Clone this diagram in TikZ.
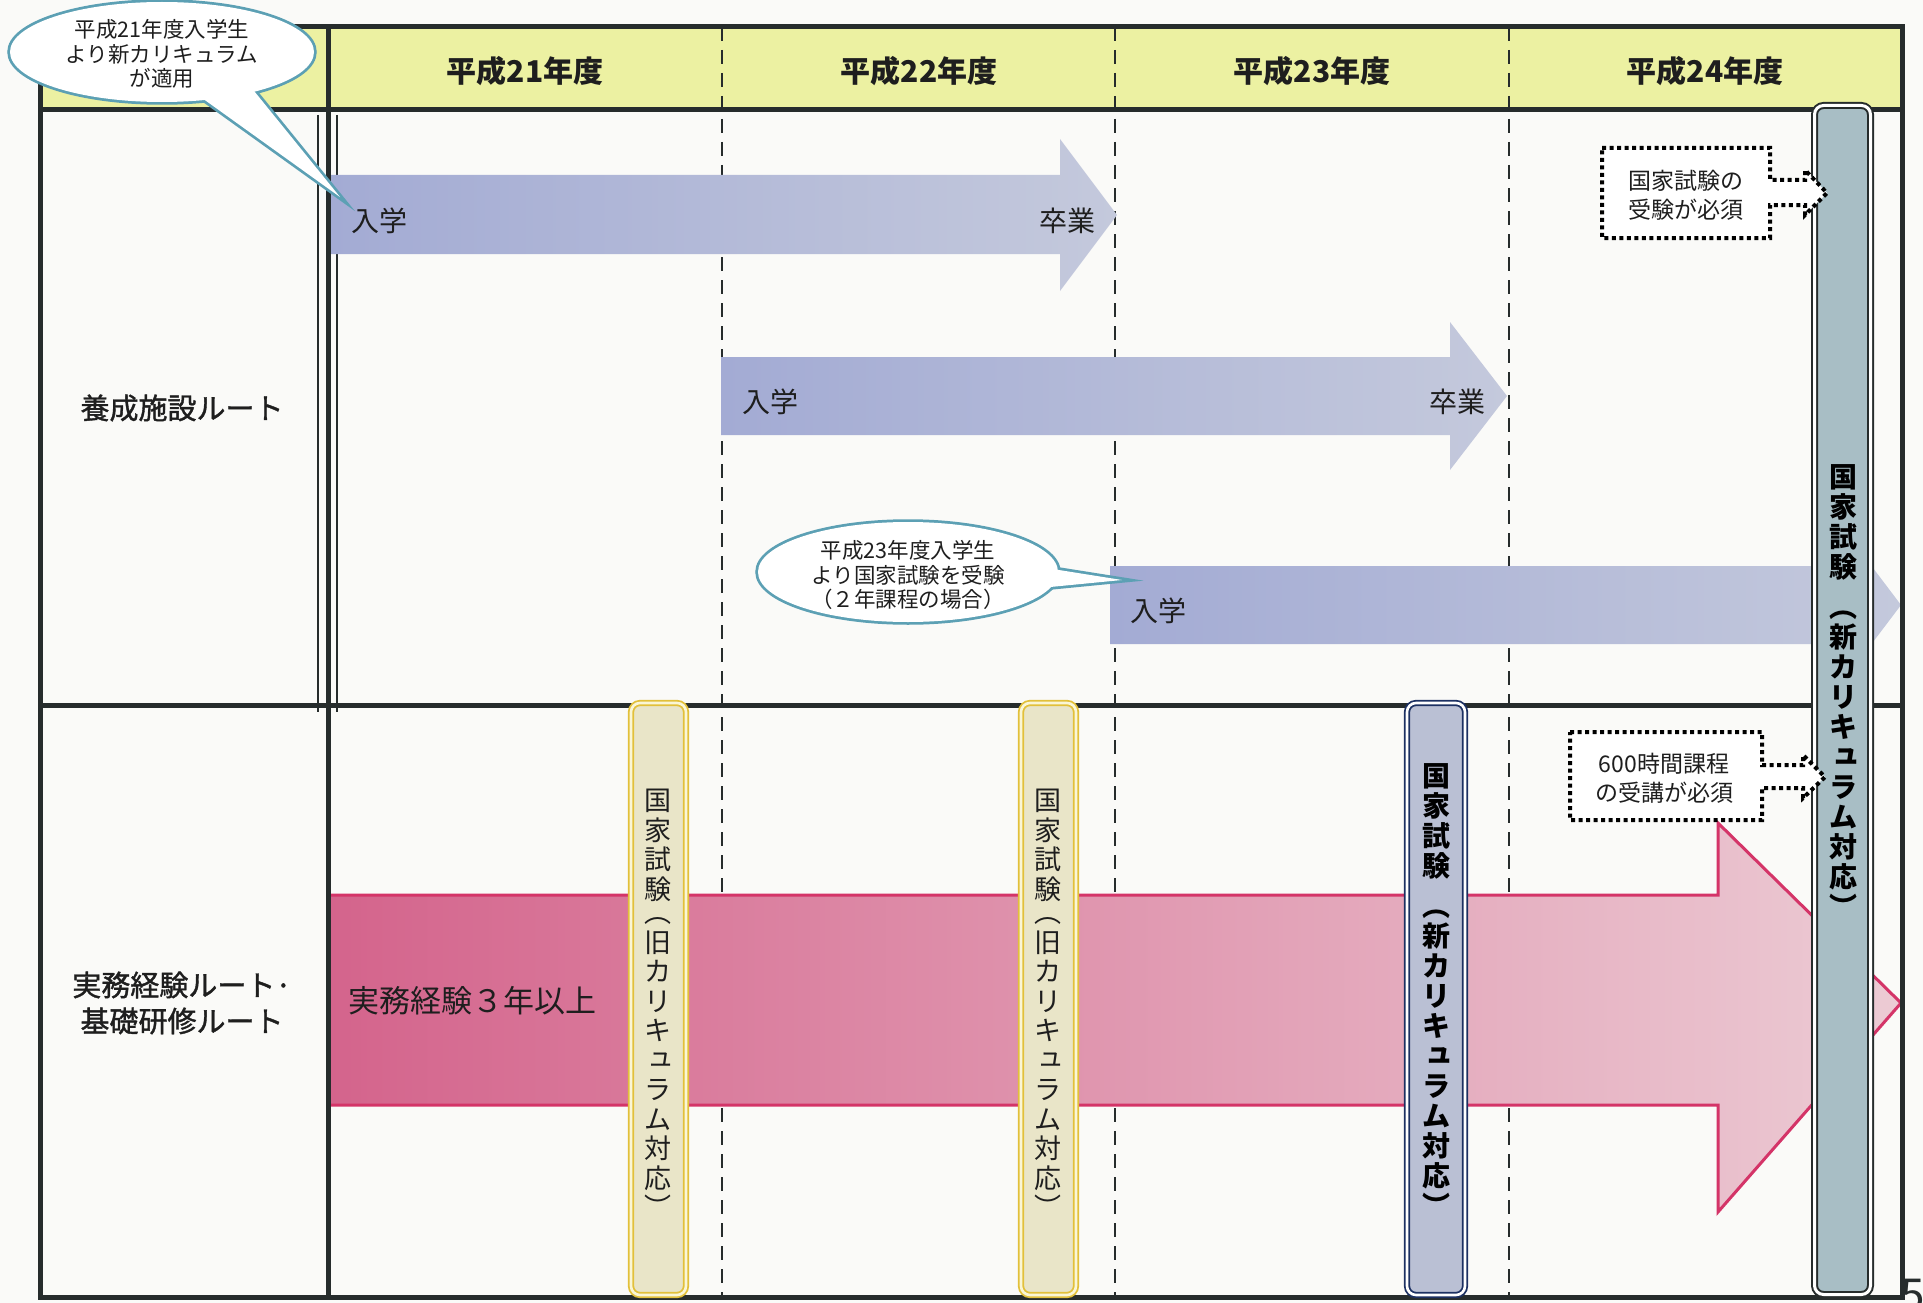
\documentclass[tikz,border=0pt]{standalone}
\usepackage{fontspec}
\setmainfont{Noto Sans CJK JP}
\newfontfamily\jpmed[FakeBold=1.3]{Noto Sans CJK JP}
\newcommand\vsmallkana[1]{\raisebox{0.14em}{\makebox[1em]{\hspace{0.22em}#1}}}
\definecolor{bgc}{RGB}{250,250,248}
\definecolor{hdr}{RGB}{236,241,162}
\definecolor{gridc}{RGB}{38,44,44}
\definecolor{txtc}{RGB}{30,30,30}
\definecolor{bluel}{RGB}{163,171,212}
\definecolor{bluer}{RGB}{196,201,220}
\definecolor{pinkl}{RGB}{212,100,140}
\definecolor{pinkr}{RGB}{236,203,212}
\definecolor{pinkb}{RGB}{212,52,104}
\definecolor{goldb}{RGB}{226,192,58}
\definecolor{goldf}{RGB}{233,229,200}
\definecolor{goldg}{RGB}{250,246,214}
\definecolor{navyb}{RGB}{28,48,98}
\definecolor{navyf}{RGB}{186,192,212}
\definecolor{tealf}{RGB}{168,190,197}
\definecolor{bubb}{RGB}{92,160,180}
\begin{document}
\begin{tikzpicture}[x=1pt,y=-1pt,
  gridline/.style={draw=gridc, line width=5pt},
  thinline/.style={draw=gridc, line width=2.5pt},
  dashline/.style={draw=gridc, line width=2.6pt, dash pattern=on 14pt off 9pt},
  yrlabel/.style={font=\bfseries\fontsize{30}{34}\selectfont, text=txtc, inner sep=0pt},
  rowlabel/.style={font=\jpmed\fontsize{29}{36}\selectfont, align=center, text=txtc, inner sep=0pt},
  arrlabel/.style={font=\fontsize{28}{32}\selectfont, text=txtc, inner sep=0pt},
  bluearrow/.style={left color=bluel, right color=bluer},
  pinkfill/.style={left color=pinkl, right color=pinkr},
  pinkline/.style={draw=pinkb, line width=3pt, line join=miter},
  oldbar/.style={rounded corners=9pt, fill=goldf, draw=goldb, line width=1.8pt, double=goldg, double distance=2.6pt},
  newbar/.style={rounded corners=9pt, fill=navyf, draw=navyb, line width=1.8pt, double=white, double distance=2.6pt},
  mainbar/.style={rounded corners=9pt, fill=tealf, draw=gridc, line width=2pt, double=white, double distance=3pt},
  vtext/.style={align=center, inner sep=0pt, anchor=north, text=txtc, font=\fontsize{27}{29.5}\selectfont},
  vbold/.style={align=center, inner sep=0pt, anchor=north, text=black, font=\bfseries\fontsize{28}{30}\selectfont},
  callout/.style={draw=black, fill=white, line width=4pt, dash pattern=on 4pt off 3.5pt, line join=miter},
  callouttext/.style={align=center, inner sep=0pt, font=\fontsize{23}{29}\selectfont, text=txtc},
  bubline/.style={draw=bubb, line width=5.5pt, line join=miter},
  bubtext/.style={align=center, inner sep=0pt, font=\fontsize{21.5}{24.5}\selectfont, text=txtc},
]
\fill[bgc] (0,0) rectangle (1923,1303);
\useasboundingbox (0,0) rectangle (1923,1303);

% header band
\fill[hdr] (40,27) rectangle (1902,110);

% dashed year separators
\foreach \x in {722,1115,1509} {\draw[dashline] (\x,27) -- (\x,1297);}

% thin lines of the triple divider (upper section)
\draw[thinline] (318,115) -- (318,712);
\draw[thinline] (337,115) -- (337,712);

% blue arrows
\shade[bluearrow] (329,175) -- (1060,175) -- (1060,139) -- (1117,215) -- (1060,291) -- (1060,254) -- (329,254) -- cycle;
\shade[bluearrow] (721,357) -- (1450,357) -- (1450,322) -- (1507,396) -- (1450,470) -- (1450,435) -- (721,435) -- cycle;
\shade[bluearrow] (1110,566) -- (1845,566) -- (1845,531) -- (1901,605) -- (1845,679) -- (1845,644) -- (1110,644) -- cycle;

% pink arrow
\shade[pinkfill] (328,895) -- (1718,895) -- (1718,823) -- (1901,1003) -- (1718,1212) -- (1718,1105) -- (328,1105) -- cycle;
\draw[pinkline] (328,895) -- (1718,895) -- (1718,823) -- (1901,1003) -- (1718,1212) -- (1718,1105) -- (328,1105);

% grid
\draw[gridline] (40,110) -- (1902,110);
\draw[gridline] (40,705) -- (1902,705);
\draw[gridline] (328,27) -- (328,1297);
\draw[gridline] (40,27) rectangle (1902,1297);

% header labels
\node[yrlabel] (y21) at (525,71) {平成21年度};
\node[yrlabel] (y22) at (919,71) {平成22年度};
\node[yrlabel] (y23) at (1312,71) {平成23年度};
\node[yrlabel] (y24) at (1705,71) {平成24年度};

% row labels
\node[rowlabel] (r1) at (182,408) {養成施設ルート};
\node[rowlabel] (r2) at (182,1003) {実務経験ルート·\\基礎研修ルート};

% arrow labels
\node[arrlabel] (a1s) at (379,221) {入学};
\node[arrlabel] (a1e) at (1067,221) {卒業};
\node[arrlabel] (a2s) at (770,402) {入学};
\node[arrlabel] (a2e) at (1457,402) {卒業};
\node[arrlabel] (a3s) at (1158,611) {入学};
\node[font=\fontsize{31}{34}\selectfont, text=txtc, inner sep=0pt] (pk) at (472,1001) {実務経験３年以上};

% vertical bars
\path[oldbar] (631,703) rectangle (686,1295);
\path[oldbar] (1021,703) rectangle (1076,1295);
\path[newbar] (1407,703) rectangle (1465,1295);
\path[mainbar] (1814.5,105.5) rectangle (1870.5,1294.5);

\node[vtext] (ob1) at (658,789) {国\\家\\試\\験\\[-6pt]︵\\旧\\カ\\リ\\キ\\\vsmallkana{ュ}\\ラ\\ム\\対\\応\\︶};
\node[vtext] (ob2) at (1048,789) {国\\家\\試\\験\\[-6pt]︵\\旧\\カ\\リ\\キ\\\vsmallkana{ュ}\\ラ\\ム\\対\\応\\︶};
\node[vbold] (nb) at (1436,763) {国\\家\\試\\験\\[10pt]︵\\新\\カ\\リ\\キ\\\vsmallkana{ュ}\\ラ\\ム\\対\\応\\︶};
\node[vbold] (mb) at (1843,464) {国\\家\\試\\験\\[10pt]︵\\新\\カ\\リ\\キ\\\vsmallkana{ュ}\\ラ\\ム\\対\\応\\︶};

% dotted callouts
\path[callout] (1602,148) -- (1770,148) -- (1770,180) -- (1805,180) -- (1805,170) -- (1827,193) -- (1805,215) -- (1805,205) -- (1770,205) -- (1770,238) -- (1602,238) -- cycle;
\node[callouttext] (c1) at (1686,195) {国家試験の\\受験が必須};
\path[callout] (1570,732) -- (1762,732) -- (1762,765) -- (1803,765) -- (1803,755) -- (1825,777) -- (1803,798) -- (1803,788) -- (1762,788) -- (1762,820) -- (1570,820) -- cycle;
\node[callouttext] (c2) at (1664,778) {600時間課程\\の受講が必須};

% speech bubbles
\draw[bubline] (162,52) ellipse [x radius=152, y radius=50];
\draw[bubline] (195,93) -- (340,197) -- (250,86);
\fill[white] (162,52) ellipse [x radius=152, y radius=50];
\fill[white] (195,93) -- (340,197) -- (250,86) -- cycle;
\node[bubtext] (b1) at (162,54) {平成21年度入学生\\より新カリキュラム\\が適用};

\draw[bubline] (908,572) ellipse [x radius=150, y radius=50];
\draw[bubline] (1040,567) -- (1122,580) -- (1040,588);
\fill[white] (908,572) ellipse [x radius=150, y radius=50];
\fill[white] (1040,567) -- (1122,580) -- (1040,588) -- cycle;
\node[bubtext] (b2) at (908,575) {平成23年度入学生\\より国家試験を受験\\（２年課程の場合）};

% page number fragment
\begin{scope}
\clip (0,0) rectangle (1923,1303);
\node[font=\fontsize{44}{44}\selectfont, text=gridc, anchor=north, inner sep=0pt] (pg) at (1913,1279) {5};
\end{scope}
\end{tikzpicture}
\end{document}
